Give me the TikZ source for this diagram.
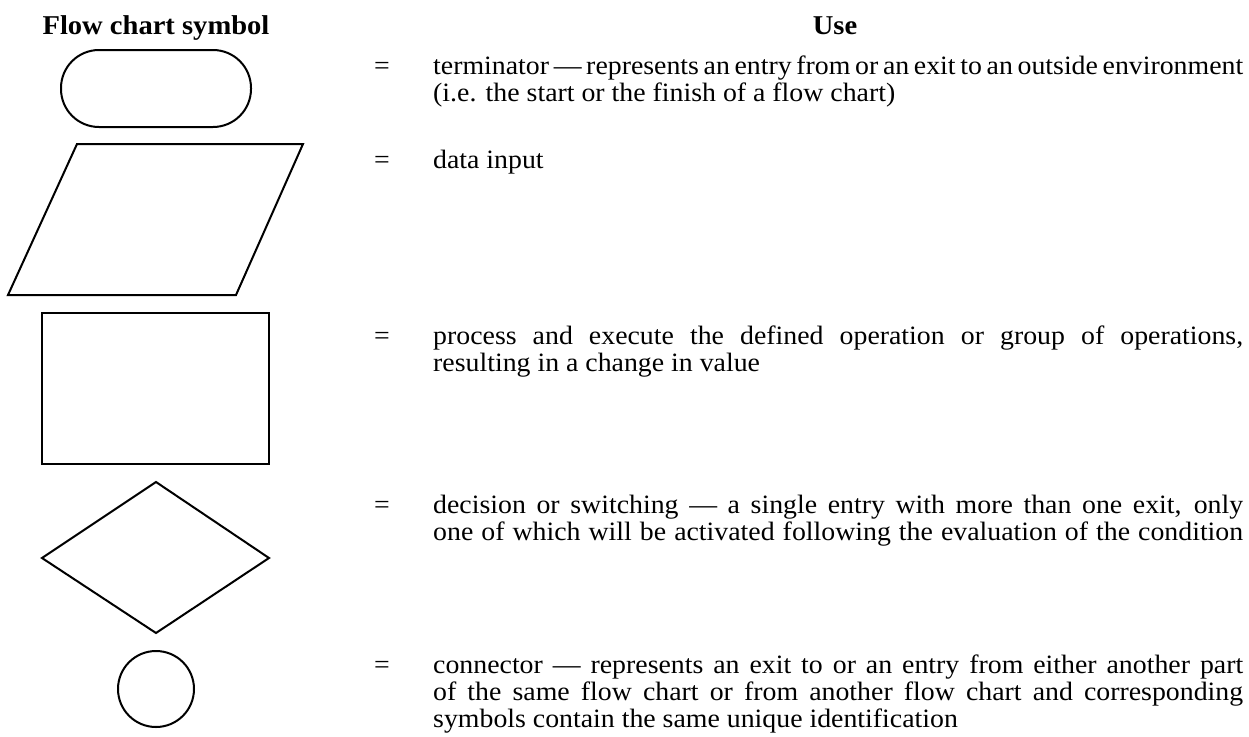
\documentclass[tikz,border=0pt]{standalone}
\usepackage{fontspec}
\setmainfont{Liberation Serif}[FakeStretch=1.05]
% width of a justified text line
\newlength{\colw}
\setlength{\colw}{810pt}
% a full line of justified text: word spaces shrink or grow to fill the column
\newcommand{\fullline}[1]{{\spaceskip=4.5pt plus 1fil\relax\makebox[\colw][s]{#1}}}
\begin{document}
\begin{tikzpicture}[x=1pt,y=-1pt,
  sym/.style={draw=black,line width=2pt,line join=miter},
  bodyfont/.style={font=\fontsize{26.5}{27}\selectfont},
  desc/.style={bodyfont,anchor=base west,inner sep=0pt},
  eqsign/.style={bodyfont,anchor=base,inner sep=0pt},
  head/.style={font=\bfseries\fontsize{27.2}{29}\selectfont,anchor=base,inner sep=0pt}]
\useasboundingbox (0,0) rectangle (1249,736);

% column headings
\node[head] (hsym) at (156,34) {Flow chart symbol};
\node[head] (huse) at (835,34) {Use};

% symbols
\draw[sym,rounded corners=38pt] (61,50) rectangle (251,127);
\draw[sym] (77,144) -- (303,144) -- (236,295) -- (8,295) -- cycle;
\draw[sym] (42,313) rectangle (269,464);
\draw[sym] (156,482) -- (269,558) -- (156,633) -- (42,558) -- cycle;
\draw[sym] (156,689) circle [radius=38];

% terminator
\node[eqsign] (e1) at (382,74) {=};
\node[desc] (d1a) at (433,74) {\fullline{terminator --- represents an entry from or an exit to an outside environment}};
\node[desc] (d1b) at (433,101) {(i.e. the start or the finish of a flow chart)};

% data input
\node[eqsign] (e2) at (382,168) {=};
\node[desc] (d2) at (433,168) {data input};

% process
\node[eqsign] (e3) at (382,344) {=};
\node[desc] (d3a) at (433,344) {\fullline{process and execute the defined operation or group of operations,}};
\node[desc] (d3b) at (433,371) {resulting in a change in value};

% decision
\node[eqsign] (e4) at (382,513) {=};
\node[desc] (d4a) at (433,513) {\fullline{decision or switching --- a single entry with more than one exit, only}};
\node[desc] (d4b) at (433,540) {\fullline{one of which will be activated following the evaluation of the condition}};

% connector
\node[eqsign] (e5) at (382,673) {=};
\node[desc] (d5a) at (433,673) {\fullline{connector --- represents an exit to or an entry from either another part}};
\node[desc] (d5b) at (433,700) {\fullline{of the same flow chart or from another flow chart and corresponding}};
\node[desc] (d5c) at (433,727) {symbols contain the same unique identification};
\end{tikzpicture}
\end{document}
